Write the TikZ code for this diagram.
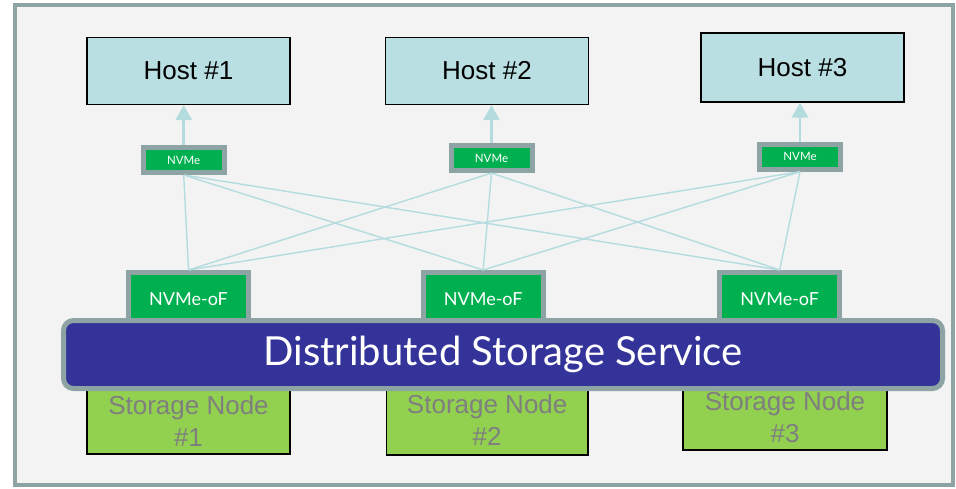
\documentclass[tikz,border=0pt]{standalone}
\usepackage{fontspec}
\setmainfont{Liberation Sans}
\newfontfamily\gillfont{Lato}
\usetikzlibrary{arrows.meta}

\definecolor{frameg}{HTML}{8DA3A4}
\definecolor{bgg}{HTML}{F3F3F3}
\definecolor{hostc}{HTML}{BADFE3}
\definecolor{linkc}{HTML}{B4DCDF}
\definecolor{nvg}{HTML}{00B050}
\definecolor{dssc}{HTML}{333399}
\definecolor{storeg}{HTML}{92D050}
\definecolor{storet}{HTML}{7F7F7F}

\tikzset{
  hostbox/.style={draw=black, line width=1.1pt, fill=hostc, minimum width=203pt,
    inner sep=0pt, font=\fontsize{26}{30}\selectfont},
  nvmebox/.style={draw=frameg, line width=5pt, fill=nvg, minimum width=81pt,
    minimum height=25pt, inner sep=0pt, text=white, font=\gillfont\fontsize{11.5}{13}\selectfont},
  oFbox/.style={draw=frameg, line width=5pt, fill=nvg, minimum width=120pt,
    minimum height=52.5pt, inner sep=0pt, text=white, font=\gillfont\fontsize{18}{21}\selectfont},
  storebox/.style={draw=black, line width=1.1pt, fill=storeg, inner sep=0pt},
  storetext/.style={text=storet, align=center, inner sep=0pt,
    font=\fontsize{26}{32}\selectfont},
  dssbox/.style={draw=frameg, line width=5pt, fill=dssc, rounded corners=10pt,
    minimum width=879pt, minimum height=68pt, inner sep=0pt, text=white,
    font=\gillfont\fontsize{40}{46}\selectfont},
  link/.style={draw=linkc, line width=1.4pt},
  uparrow/.style={draw=linkc, line width=2.7pt, -{Triangle[width=16pt,length=15pt]}}
}

\begin{document}
\begin{tikzpicture}[x=1pt,y=-1pt]
\useasboundingbox (0,0) rectangle (956,488);
% outer frame
\draw[frameg, line width=4.5pt, fill=bgg] (15,5) rectangle (953,485);

% hosts
\node[hostbox, minimum height=67pt] (h1) at (188.5,71) {Host \#1};
\node[hostbox, minimum height=67pt] (h2) at (487,71) {Host \#2};
\node[hostbox, minimum height=69pt] (h3) at (802.5,67.5) {Host \#3};

% NVMe initiators
\node[nvmebox] (n1) at (183.7,160) {NVMe};
\node[nvmebox] (n2) at (491.5,158) {NVMe};
\node[nvmebox] (n3) at (800,156.7) {NVMe};

% NVMe-oF targets
\node[oFbox] (f1) at (188.5,298.75) {NVMe-oF};
\node[oFbox] (f2) at (483.2,298.75) {NVMe-oF};
\node[oFbox] (f3) at (779.7,298.75) {NVMe-oF};

% full mesh between initiators and targets
\foreach \a in {1,2,3}{
  \foreach \b in {1,2,3}{
    \draw[link] (n\a.south) -- (f\b.north);
  }
}

% initiators feed their hosts
\foreach \a in {1,2,3}{
  \draw[uparrow] (n\a.north) -- (n\a.north |- h\a.south);
}

% storage nodes (partly hidden behind the service bar)
\draw[storebox] (87,370) rectangle (290,454);
\draw[storebox] (386.5,370) rectangle (588,455);
\draw[storebox] (683,370) rectangle (887,450);
\node[storetext] (s1) at (188.5,421) {Storage Node\\\#1};
\node[storetext] (s2) at (487.2,420.5) {Storage Node\\\#2};
\node[storetext] (s3) at (785,417) {Storage Node\\\#3};

% service bar
\node[dssbox] (dss) at (503,354.5) {Distributed Storage Service};
\end{tikzpicture}
\end{document}
